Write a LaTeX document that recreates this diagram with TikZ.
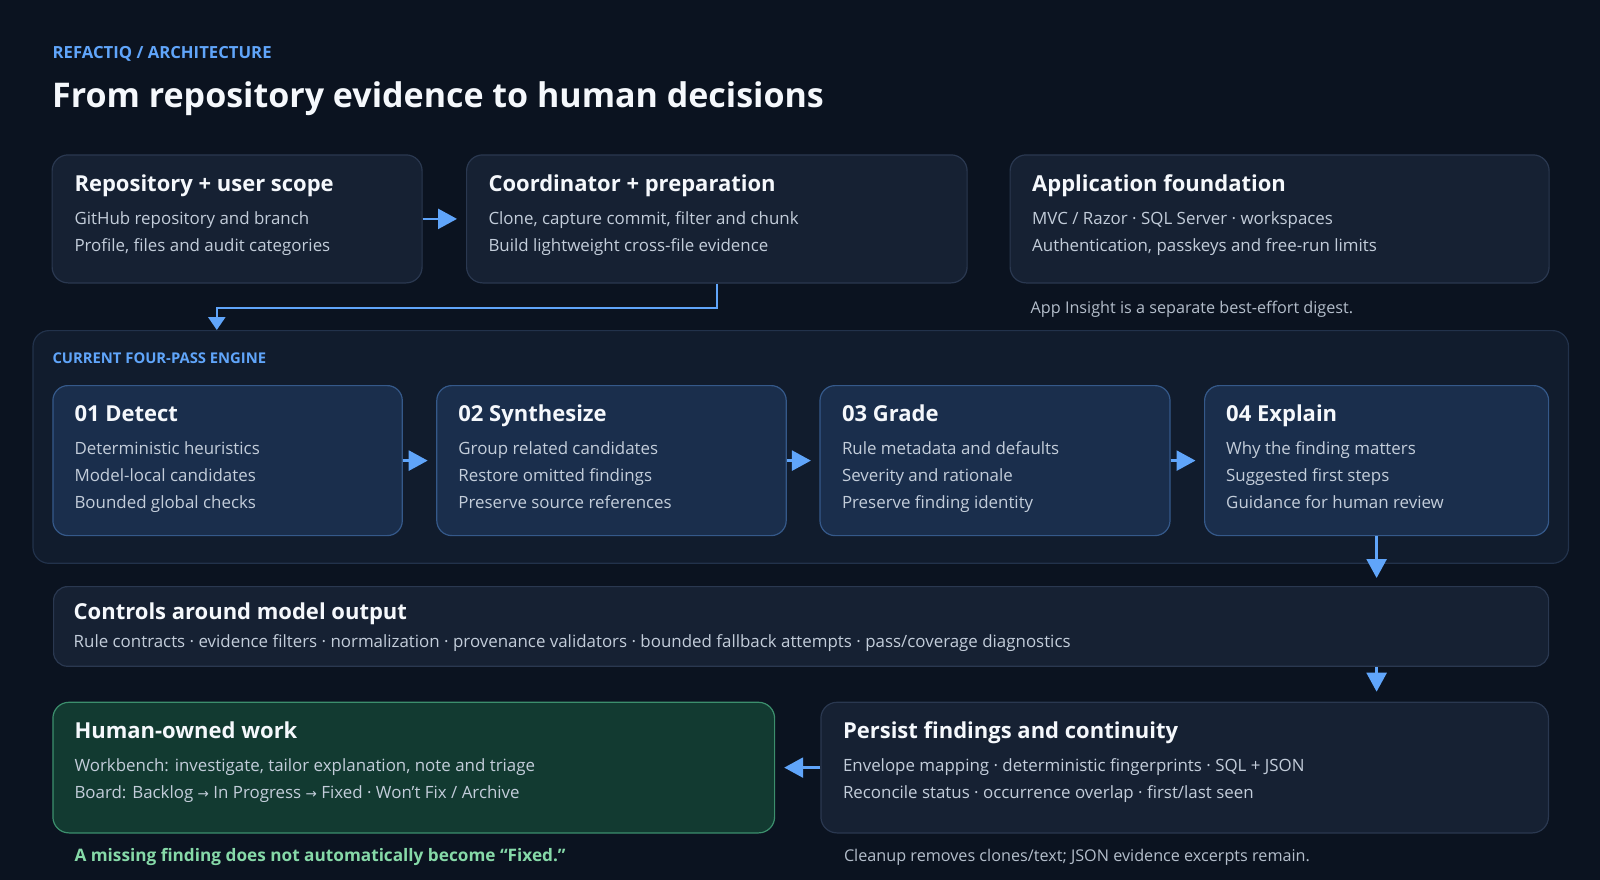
\documentclass[tikz,border=0pt]{standalone}
\usepackage{fontspec}
\setmainfont{Open Sans}
\newfontfamily\symfont{DejaVu Sans}
\usetikzlibrary{arrows.meta,calc}
\definecolor{bg}{HTML}{0B1320}
\definecolor{boxfill}{HTML}{162133}
\definecolor{boxline}{HTML}{2A3850}
\definecolor{engfill}{HTML}{111C2D}
\definecolor{engline}{HTML}{22324B}
\definecolor{passfill}{HTML}{1A2E4C}
\definecolor{passline}{HTML}{35598A}
\definecolor{humfill}{HTML}{123A31}
\definecolor{humline}{HTML}{3C8F6D}
\definecolor{accent}{HTML}{60A5FA}
\definecolor{greennote}{HTML}{86D9A8}
\definecolor{titlecol}{HTML}{F5F8FC}
\definecolor{bodycol}{HTML}{C3CDDA}
\definecolor{notecol}{HTML}{B4BECB}
\newcommand{\rarr}{{\symfont\fontsize{13.5}{16}\selectfont →}}
\tikzset{
  panel/.style={draw=boxline, fill=boxfill, line width=1.2pt, rounded corners=16pt, inner sep=0pt, anchor=north west},
  passbox/.style={draw=passline, fill=passfill, line width=1.2pt, rounded corners=15pt, inner sep=0pt, anchor=north west},
  enginebox/.style={draw=engline, fill=engfill, line width=1.2pt, rounded corners=16pt, inner sep=0pt, anchor=north west},
  humanbox/.style={draw=humline, fill=humfill, line width=1.2pt, rounded corners=16pt, inner sep=0pt, anchor=north west},
  ttl/.style={anchor=base west, inner sep=0pt, text=titlecol, font=\fontsize{22}{26}\selectfont\bfseries},
  body/.style={anchor=base west, inner sep=0pt, text=bodycol, font=\fontsize{16.9}{20}\selectfont},
  note/.style={anchor=base west, inner sep=0pt, text=notecol, font=\fontsize{16.2}{19}\selectfont},
  arr/.style={draw=accent, line width=2.6pt, -{Triangle[length=19pt,width=20pt]}},
}
\begin{document}
\begin{tikzpicture}[x=1pt,y=-1pt]
\fill[bg] (0,0) rectangle (1600,880);
\useasboundingbox (0,0) rectangle (1600,880);

% header
\node[anchor=base west, inner sep=0pt, text=accent, font=\fontsize{16.7}{19}\selectfont\bfseries] (kicker) at (52.5,59) {REFACTIQ / ARCHITECTURE};
\node[anchor=base west, inner sep=0pt, text=titlecol, font=\fontsize{34}{40}\selectfont\bfseries] (headline) at (52,108) {From repository evidence to human decisions};

% top row
\node[panel, minimum width=370pt, minimum height=128pt] (repo) at (51.5,154.3) {};
\node[ttl] (repoT) at (74.3,191) {Repository + user scope};
\node[body] (repoA) at (74.3,224) {GitHub repository and branch};
\node[body] (repoB) at (74.3,251) {Profile, files and audit categories};

\node[panel, minimum width=500.5pt, minimum height=128pt] (coord) at (466,154.3) {};
\node[ttl] (coordT) at (488.3,191) {Coordinator + preparation};
\node[body] (coordA) at (488.3,224) {Clone, capture commit, filter and chunk};
\node[body] (coordB) at (488.3,251) {Build lightweight cross-file evidence};

\node[panel, minimum width=539pt, minimum height=128pt] (found) at (1009.5,154.3) {};
\node[ttl] (foundT) at (1032,191) {Application foundation};
\node[body] (foundA) at (1032,224) {MVC / Razor · SQL Server · workspaces};
\node[body] (foundB) at (1032,251) {Authentication, passkeys and free-run limits};
\node[note] (insight) at (1030.5,313) {App Insight is a separate best-effort digest.};

% engine
\node[enginebox, minimum width=1535.5pt, minimum height=232.7pt] (eng) at (32.4,330) {};
\node[anchor=base west, inner sep=0pt, text=accent, font=\fontsize{14.8}{17}\selectfont\bfseries] (engL) at (52.3,363) {CURRENT FOUR-PASS ENGINE};

\node[passbox, minimum width=349.4pt, minimum height=150pt] (detect) at (52.3,385) {};
\node[ttl] (detectT) at (74.3,421) {01 Detect};
\node[body] (detectA) at (74.3,454.5) {Deterministic heuristics};
\node[body] (detectB) at (74.3,481.5) {Model-local candidates};
\node[body] (detectC) at (74.3,508.5) {Bounded global checks};

\node[passbox, minimum width=349.4pt, minimum height=150pt] (synth) at (436.2,385) {};
\node[ttl] (synthT) at (458.2,421) {02 Synthesize};
\node[body] (synthA) at (458.2,454.5) {Group related candidates};
\node[body] (synthB) at (458.2,481.5) {Restore omitted findings};
\node[body] (synthC) at (458.2,508.5) {Preserve source references};

\node[passbox, minimum width=350pt, minimum height=150pt] (grade) at (819.4,385) {};
\node[ttl] (gradeT) at (841.8,421) {03 Grade};
\node[body] (gradeA) at (841.8,454.5) {Rule metadata and defaults};
\node[body] (gradeB) at (841.8,481.5) {Severity and rationale};
\node[body] (gradeC) at (841.8,508.5) {Preserve finding identity};

\node[passbox, minimum width=344pt, minimum height=150pt] (explain) at (1204,385) {};
\node[ttl] (explainT) at (1226,421) {04 Explain};
\node[body] (explainA) at (1226,454.5) {Why the finding matters};
\node[body] (explainB) at (1226,481.5) {Suggested first steps};
\node[body] (explainC) at (1226,508.5) {Guidance for human review};

% controls
\node[panel, rounded corners=14pt, minimum width=1495pt, minimum height=79.7pt] (ctrl) at (53,586) {};
\node[ttl] (ctrlT) at (73.5,619) {Controls around model output};
\node[body] (ctrlA) at (73.5,647) {Rule contracts · evidence filters · normalization · provenance validators · bounded fallback attempts · pass/coverage diagnostics};

% bottom row
\node[humanbox, minimum width=721.7pt, minimum height=130.6pt] (human) at (52.3,701.7) {};
\node[ttl] (humanT) at (74.3,738) {Human-owned work};
\node[body] (humanA) at (74.3,771.5) {Workbench: investigate, tailor explanation, note and triage};
\node[body] (humanB) at (74.3,798.5) {Board: Backlog \rarr\ In Progress \rarr\ Fixed · Won’t Fix / Archive};
\node[anchor=base west, inner sep=0pt, text=greennote, font=\fontsize{17.2}{20}\selectfont\bfseries] (missing) at (74.3,861.5) {A missing finding does not automatically become “Fixed.”};

\node[panel, minimum width=727.5pt, minimum height=130.6pt] (persist) at (820.3,701.7) {};
\node[ttl] (persistT) at (842.8,738) {Persist findings and continuity};
\node[body] (persistA) at (842.8,771.5) {Envelope mapping · deterministic fingerprints · SQL + JSON};
\node[body] (persistB) at (842.8,798.5) {Reconcile status · occurrence overlap · first/last seen};
\node[note] (cleanup) at (843.8,861.5) {Cleanup removes clones/text; JSON evidence excerpts remain.};

% connectors
\coordinate (engIn) at (216.8,330);
\draw[arr, shorten >=9pt] (repo.east) -- (coord.west);
\draw[arr, -{Triangle[length=13pt,width=17pt]}] (coord.south) -- ++(0,24.5) -| (engIn);
\draw[arr, shorten >=8.5pt] (detect.east) -- (synth.west);
\draw[arr, shorten >=8.5pt] (synth.east) -- (grade.west);
\draw[arr, shorten >=8.5pt] (grade.east) -- (explain.west);
\draw[arr, shorten >=8pt] (explain.south) -- (explain.south |- ctrl.north);
\draw[arr, shorten >=10pt] (ctrl.south -| explain.south) -- (persist.north -| explain.south);
\draw[arr, shorten >=9pt] (persist.west) -- (human.east);
\end{tikzpicture}
\end{document}
